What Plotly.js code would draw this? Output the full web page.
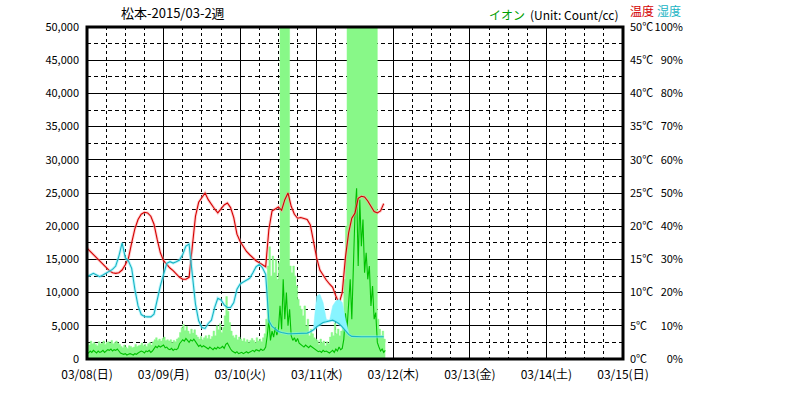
<!DOCTYPE html>
<html><head><meta charset="utf-8">
<script src="https://cdn.plot.ly/plotly-3.0.1.min.js"></script>
<style>html,body{margin:0;padding:0;background:#fff;}#chart{width:786px;height:399px;}</style>
</head><body><div id="chart"></div>
<script>
// ---- data (hours from 03/08 00:00) ----
const sensorStepHours = 1;     // temperature / humidity sampled hourly
const ionStepHours = 0.5;      // ion sampled every 30 min

const dayTicks = [0, 24, 48, 72, 96, 120, 144, 168];
const dayLabels = ['03/08(日)', '03/09(月)', '03/10(火)', '03/11(水)', '03/12(木)', '03/13(金)', '03/14(土)', '03/15(日)'];

const tempC = [16.7,16.2,15.7,15.2,14.7,14.2,13.8,13.3,13.0,12.9,
  13.0,13.4,14.2,15.2,17.5,19.6,21.0,21.8,22.1,22.0,
  21.5,20.3,18.0,16.0,14.8,14.2,13.7,13.3,12.8,12.3,
  12.0,12.0,12.3,16.5,21.5,23.6,24.4,25.0,24.0,23.2,
  22.6,22.0,22.6,23.2,23.5,22.8,21.3,18.8,17.7,16.9,
  16.2,15.7,15.2,14.8,14.5,14.2,13.9,19.5,22.3,22.6,
  22.9,22.4,24.0,25.0,23.0,21.8,21.2,21.3,21.2,21.0,
  20.2,17.8,15.2,13.4,12.6,11.9,11.3,10.8,9.5,8.4,
  10.0,15.3,19.0,21.2,22.0,24.2,24.5,24.4,23.8,22.9,
  22.2,22.0,22.3,23.4];

const humPct = [24.8,25.3,25.8,25.3,24.8,25.3,25.8,26.3,27.0,28.0,
  31.0,35.0,30.5,29.5,27.3,21.0,16.0,13.4,12.8,12.7,
  12.7,13.5,18.0,22.0,25.5,28.8,29.3,28.9,29.3,29.8,
  31.5,34.0,34.6,26.0,16.5,11.5,9.5,9.2,10.7,11.7,
  15.5,18.3,17.8,16.3,15.5,15.5,17.0,21.0,22.6,23.2,
  23.7,24.3,26.0,27.8,28.5,27.5,25.5,11.5,9.8,9.0,
  8.3,8.0,7.7,7.6,7.6,7.6,7.6,7.6,7.7,7.8,
  8.2,8.8,9.7,10.4,11.0,11.2,11.5,11.7,11.2,10.6,
  9.7,8.5,7.4,6.8,6.7,6.7,6.7,6.7,6.7,6.7,
  6.7,6.7,6.7,6.7];

// upper edge of the humidity spread band (hours 71..82)
const humBandFirstHour = 71;
const humBandHi = [9.5,19.0,19.5,17.0,12.0,11.5,16.0,17.5,18.0,17.0,12.0,8.0];

const ionMean = [1100,900,1200,1000,1300,1100,900,1200,1000,1100,1300,1000,1200,
  1400,1300,1500,1200,1400,1300,1500,1200,
  900,800,700,800,600,700,800,700,600,800,700,900,
  1000,1200,1100,900,1200,1100,1300,1000,1200,
  1600,1900,1700,2000,1800,1900,2100,1700,1800,
  1500,1400,1600,1300,1500,1400,1600,
  2300,2600,2900,2700,3100,2800,2500,2900,2700,3000,2600,
  2200,1900,2100,1800,2000,1900,
  1700,1500,1800,1600,1400,1700,1500,1800,1600,1700,
  1900,1600,2200,2400,1800,1500,
  1200,1000,900,1100,800,900,1000,800,900,1100,900,1000,1200,
  1300,1100,1400,1300,1200,1500,1300,1400,1800,
  3500,5900,2800,4200,
  3300,4800,3600,4500,
  8000,4500,12000,6000,10000,5000,7500,
  3500,2800,3200,2600,3100,2400,2200,
  2000,1800,2100,1900,1700,2000,1800,1600,1500,
  1300,1100,1200,1000,1300,1100,1200,1000,
  900,1100,1300,1000,1500,1200,1800,1400,1600,
  3000,6900,4500,
  9000,12000,6000,16400,22000,25700,14000,24000,17000,21000,13000,16000,12000,14000,8000,11000,6000,7000,
  2500,1800,1200,1500,1000,1300];

const ionMax = [2400,2100,2700,2300,2500,2200,2000,2600,2300,2400,2700,2200,2500,
  2600,2400,2800,2300,2500,2700,2400,2200,
  1900,1700,2100,1800,1600,2000,1900,1700,1800,2200,1900,2000,
  2100,2400,2000,2200,1900,2300,2500,2100,2600,
  2900,3200,2800,3000,2700,3100,3300,2800,2900,
  2700,2900,2500,2800,2600,3000,3200,
  4000,4700,5200,4300,4900,4200,3800,4500,3900,4400,3600,
  3300,3000,3400,2900,3200,3500,
  3100,3600,3000,3400,4200,3500,5000,4400,5300,4000,
  4800,6500,9400,7200,5500,4200,
  3500,3200,3600,2900,3300,3000,2700,3100,2600,2900,2500,2800,3100,
  2800,2500,3200,2700,3000,2600,3200,3800,6000,
  14000,16900,12500,15500,
  13000,15000,12000,14500,
  60000,60000,60000,60000,60000,60000,14000,
  13000,14000,12500,11000,9000,8000,7500,
  6500,8000,5000,6000,3500,4500,3800,3200,3000,
  2800,2200,3000,2500,2700,2000,2600,2300,
  3300,4000,3500,5400,3800,4500,3500,4200,5000,
  12000,20000,60000,
  60000,60000,60000,60000,60000,60000,60000,60000,60000,60000,60000,60000,60000,60000,60000,60000,60000,60000,
  6000,4500,3500,4200,3000,2500];

// ---- build traces ----
const sensorX = tempC.map((_, i) => i * sensorStepHours);
const ionX = ionMean.map((_, i) => i * ionStepHours);
const bandX = humBandHi.map((_, i) => humBandFirstHour + i * sensorStepHours);
const bandBase = bandX.map(h => humPct[h]);

const traces = [
  {x: ionX, y: ionMax, type: 'scatter', mode: 'lines', fill: 'tozeroy',
   line: {color: '#88f888', width: 0.5, shape: 'hv'}, fillcolor: '#88f888', hoverinfo: 'skip'},
  {x: ionX, y: ionMean, type: 'scatter', mode: 'lines',
   line: {color: '#00c000', width: 1.1}},
  {x: bandX, y: bandBase, yaxis: 'y3', type: 'scatter', mode: 'lines',
   line: {color: 'rgba(0,0,0,0)', width: 0}},
  {x: bandX, y: humBandHi, yaxis: 'y3', type: 'scatter', mode: 'lines', fill: 'tonexty',
   line: {color: '#88f4ff', width: 0.5}, fillcolor: '#88f4ff'},
  {x: sensorX, y: humPct, yaxis: 'y3', type: 'scatter', mode: 'lines',
   line: {color: 'rgba(130,240,250,0.5)', width: 3}},
  {x: sensorX, y: humPct, yaxis: 'y3', type: 'scatter', mode: 'lines',
   line: {color: '#18b4c4', width: 1.1}},
  {x: sensorX, y: tempC, yaxis: 'y2', type: 'scatter', mode: 'lines',
   line: {color: 'rgba(255,160,160,0.5)', width: 3}},
  {x: sensorX, y: tempC, yaxis: 'y2', type: 'scatter', mode: 'lines',
   line: {color: '#d40000', width: 1.1}}
];

const W = 786, H = 399, L = 87, R = 86, T = 27, B = 40;
const plotRightPx = 623;
const paperW = W - L - R, paperH = H - T - B;
const px = v => (v - L) / paperW;      // pixel x -> paper x
const py = v => (H - B - v) / paperH;  // pixel y -> paper y
const fam = 'Noto Sans CJK JP, sans-serif';
const fnt = {family: fam, size: 12, color: '#000'};
const fntS = {family: fam, size: 11, color: '#000'};

const layout = {
  width: W, height: H,
  margin: {l: L, r: R, t: T, b: B, pad: 0},
  paper_bgcolor: '#fff', plot_bgcolor: '#fff',
  showlegend: false,
  font: fnt,
  xaxis: {
    domain: [0, px(plotRightPx)], range: [0, 168],
    tickvals: dayTicks, ticktext: dayLabels, ticks: '', ticklabelstandoff: 7,
    showgrid: true, gridcolor: '#000', gridwidth: 1, zeroline: false,
    minor: {dtick: 6, showgrid: true, gridcolor: '#000', griddash: '3px,3px', gridwidth: 1},
    showline: false, fixedrange: true, tickfont: fnt
  },
  yaxis: {
    range: [0, 50000], dtick: 5000, tickformat: ',d', ticks: '', ticklabelstandoff: 7,
    showgrid: true, gridcolor: '#000', gridwidth: 1, zeroline: false,
    minor: {dtick: 2500, showgrid: true, gridcolor: '#000', griddash: '4px,3px', gridwidth: 1},
    showline: false, tickfont: fntS, automargin: false
  },
  yaxis2: {
    overlaying: 'y', side: 'right', anchor: 'x', range: [0, 50], dtick: 5, ticksuffix: '℃',
    showgrid: false, zeroline: false, ticks: '', ticklabelstandoff: 6, tickfont: fntS, automargin: false
  },
  yaxis3: {
    overlaying: 'y', side: 'left', anchor: 'free', position: px(683), range: [0, 100], dtick: 10,
    ticksuffix: '%', showgrid: false, zeroline: false, showline: false, ticks: '', ticklabelstandoff: 0,
    tickfont: fntS, automargin: false
  },
  shapes: [{type: 'rect', xref: 'paper', yref: 'paper', x0: 0, x1: px(plotRightPx), y0: 0, y1: 1,
            line: {color: '#000', width: 3}, layer: 'above'}],
  annotations: [
    {text: '松本-2015/03-2週', xref: 'paper', yref: 'paper', x: px(119), y: py(13), xanchor: 'left', yanchor: 'middle', showarrow: false, font: {family: fam, size: 13, color: '#000'}},
    {text: 'イオン', xref: 'paper', yref: 'paper', x: px(487), y: py(15), xanchor: 'left', yanchor: 'middle', showarrow: false, font: Object.assign({}, fnt, {color: '#00a000'})},
    {text: '(Unit: Count/cc)', xref: 'paper', yref: 'paper', x: px(528), y: py(15), xanchor: 'left', yanchor: 'middle', showarrow: false, font: fnt},
    {text: '温度', xref: 'paper', yref: 'paper', x: px(629), y: py(10), xanchor: 'left', yanchor: 'middle', showarrow: false, borderpad: 0, font: Object.assign({}, fnt, {color: '#d40000'})},
    {text: '湿度', xref: 'paper', yref: 'paper', x: px(656), y: py(10), xanchor: 'left', yanchor: 'middle', showarrow: false, borderpad: 0, font: Object.assign({}, fnt, {color: '#18b4c4'})}
  ]
};

Plotly.newPlot('chart', traces, layout, {staticPlot: true, displayModeBar: false});
</script></body></html>
